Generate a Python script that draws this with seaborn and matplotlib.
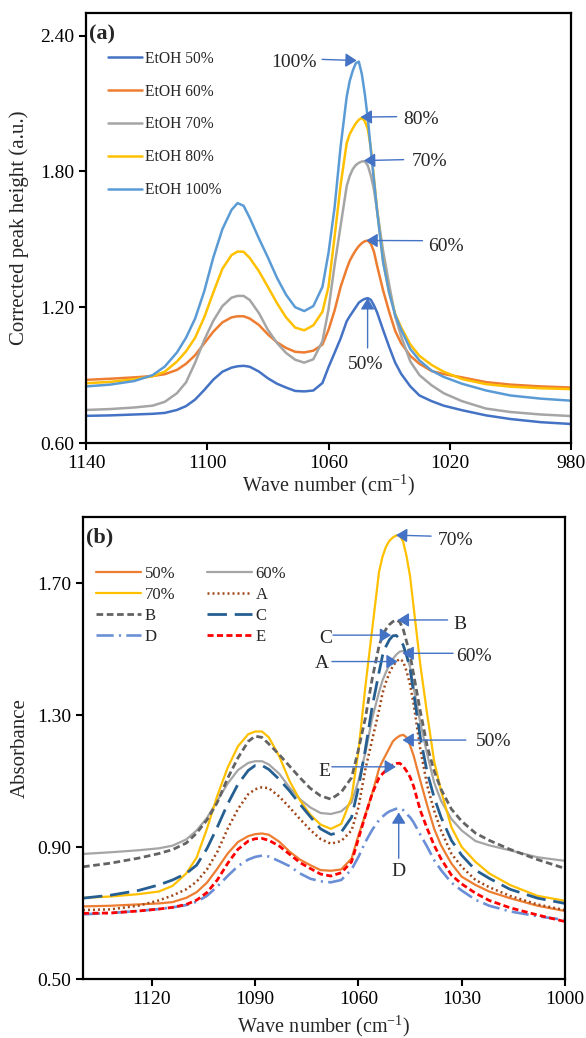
import matplotlib
matplotlib.use("Agg")
import matplotlib.pyplot as plt
import seaborn as sns

# Wavenumber grid (cm-1) shared by all spectra
WAVE = [1140, 1132, 1124, 1118, 1114, 1110, 1107, 1104, 1101, 1098,
        1095, 1092, 1090, 1088, 1086, 1083, 1080, 1077, 1074, 1071,
        1068, 1065, 1062, 1060, 1058, 1056, 1054, 1053, 1052, 1051,
        1050, 1049, 1048, 1047, 1046, 1045, 1044, 1042, 1040, 1038,
        1036, 1033, 1030, 1026, 1022, 1016, 1008, 1000, 990, 980]

# Ethanol standards
ETOH_50 = [0.720, 0.722, 0.726, 0.729, 0.733, 0.746, 0.763, 0.792, 0.834, 0.880,
           0.915, 0.933, 0.939, 0.941, 0.937, 0.916, 0.886, 0.862, 0.845, 0.830,
           0.828, 0.832, 0.865, 0.935, 0.998, 1.062, 1.138, 1.160, 1.180, 1.200,
           1.220, 1.230, 1.237, 1.240, 1.232, 1.208, 1.178, 1.100, 1.025, 0.955,
           0.905, 0.850, 0.810, 0.785, 0.765, 0.745, 0.722, 0.706, 0.692, 0.684]
ETOH_60 = [0.879, 0.884, 0.890, 0.896, 0.904, 0.923, 0.950, 0.988, 1.040, 1.092,
           1.133, 1.155, 1.160, 1.160, 1.150, 1.122, 1.080, 1.045, 1.020, 1.003,
           1.000, 1.008, 1.035, 1.100, 1.185, 1.290, 1.370, 1.405, 1.430, 1.452,
           1.470, 1.483, 1.492, 1.494, 1.480, 1.445, 1.385, 1.275, 1.180, 1.095,
           1.040, 0.985, 0.950, 0.918, 0.905, 0.890, 0.869, 0.858, 0.850, 0.845]
ETOH_70 = [0.746, 0.750, 0.757, 0.765, 0.782, 0.820, 0.868, 0.955, 1.055, 1.140,
           1.205, 1.242, 1.250, 1.250, 1.232, 1.175, 1.100, 1.042, 0.998, 0.968,
           0.955, 0.970, 1.050, 1.190, 1.385, 1.560, 1.735, 1.780, 1.810, 1.828,
           1.838, 1.844, 1.845, 1.825, 1.780, 1.720, 1.630, 1.450, 1.300, 1.160,
           1.070, 0.960, 0.900, 0.855, 0.820, 0.785, 0.752, 0.737, 0.726, 0.719]
ETOH_80 = [0.864, 0.870, 0.882, 0.895, 0.915, 0.960, 1.005, 1.065, 1.155, 1.265,
           1.370, 1.430, 1.446, 1.445, 1.418, 1.360, 1.290, 1.218, 1.155, 1.110,
           1.098, 1.120, 1.180, 1.290, 1.510, 1.740, 1.925, 1.965, 1.990, 2.012,
           2.028, 2.037, 2.022, 1.985, 1.900, 1.770, 1.635, 1.405, 1.265, 1.170,
           1.110, 1.035, 0.985, 0.945, 0.915, 0.883, 0.860, 0.849, 0.842, 0.838]
ETOH_100 = [0.850, 0.858, 0.874, 0.900, 0.938, 1.000, 1.065, 1.150, 1.270, 1.420,
            1.545, 1.630, 1.660, 1.648, 1.595, 1.505, 1.420, 1.330, 1.255, 1.200,
            1.183, 1.205, 1.290, 1.440, 1.640, 1.910, 2.130, 2.200, 2.245, 2.278,
            2.285, 2.230, 2.140, 2.030, 1.890, 1.760, 1.630, 1.400, 1.265, 1.165,
            1.100, 1.015, 0.965, 0.920, 0.892, 0.862, 0.832, 0.810, 0.796, 0.787]

# Samples A-E, recorded from 1140 to 1000 cm-1
WAVE_S = WAVE[:48]
SAMPLE_A = [0.709, 0.711, 0.722, 0.738, 0.753, 0.772, 0.795, 0.832, 0.885, 0.955,
            1.015, 1.060, 1.075, 1.081, 1.078, 1.053, 1.020, 0.985, 0.952, 0.924,
            0.910, 0.918, 0.950, 1.020, 1.135, 1.225, 1.315, 1.366, 1.400, 1.428,
            1.448, 1.462, 1.470, 1.462, 1.432, 1.392, 1.335, 1.195, 1.085, 1.010,
            0.950, 0.880, 0.840, 0.800, 0.778, 0.752, 0.726, 0.709]
SAMPLE_B = [0.840, 0.851, 0.866, 0.880, 0.892, 0.912, 0.942, 0.982, 1.035, 1.108,
            1.170, 1.220, 1.236, 1.232, 1.212, 1.180, 1.145, 1.110, 1.078, 1.055,
            1.045, 1.066, 1.110, 1.195, 1.290, 1.410, 1.510, 1.540, 1.560, 1.574,
            1.583, 1.588, 1.582, 1.560, 1.522, 1.482, 1.425, 1.310, 1.205, 1.130,
            1.075, 1.015, 0.978, 0.942, 0.920, 0.893, 0.862, 0.835]
SAMPLE_C = [0.745, 0.754, 0.768, 0.785, 0.800, 0.820, 0.845, 0.895, 0.960, 1.030,
            1.090, 1.132, 1.147, 1.147, 1.135, 1.105, 1.070, 1.030, 0.992, 0.955,
            0.938, 0.945, 0.990, 1.080, 1.195, 1.325, 1.430, 1.480, 1.508, 1.528,
            1.540, 1.541, 1.530, 1.512, 1.480, 1.440, 1.370, 1.230, 1.125, 1.050,
            0.990, 0.920, 0.875, 0.830, 0.805, 0.772, 0.745, 0.729]
SAMPLE_D = [0.696, 0.700, 0.706, 0.712, 0.717, 0.724, 0.734, 0.752, 0.780, 0.812,
            0.842, 0.862, 0.870, 0.874, 0.871, 0.857, 0.842, 0.820, 0.804, 0.796,
            0.793, 0.800, 0.832, 0.870, 0.915, 0.952, 0.982, 0.992, 1.001, 1.008,
            1.012, 1.016, 1.017, 1.012, 1.000, 0.990, 0.975, 0.937, 0.900, 0.860,
            0.830, 0.792, 0.768, 0.740, 0.722, 0.705, 0.690, 0.679]
SAMPLE_E = [0.699, 0.700, 0.706, 0.712, 0.717, 0.726, 0.739, 0.762, 0.800, 0.850,
            0.893, 0.918, 0.925, 0.926, 0.920, 0.903, 0.878, 0.853, 0.835, 0.818,
            0.812, 0.822, 0.855, 0.925, 0.995, 1.062, 1.110, 1.122, 1.132, 1.143,
            1.149, 1.153, 1.154, 1.145, 1.130, 1.112, 1.085, 1.010, 0.955, 0.905,
            0.864, 0.815, 0.788, 0.760, 0.738, 0.716, 0.694, 0.674]

TOP_XTICKS = [1140, 1100, 1060, 1020, 980]
TOP_YTICKS = [0.60, 1.20, 1.80, 2.40]
BOT_XTICKS = [1120, 1090, 1060, 1030, 1000]
BOT_YTICKS = [0.50, 0.90, 1.30, 1.70]

sns.set_style("ticks")
plt.rcParams["font.family"] = ["Liberation Serif", "DejaVu Serif"]
plt.rcParams["mathtext.fontset"] = "custom"
plt.rcParams["mathtext.rm"] = "Liberation Serif"
plt.rcParams["mathtext.it"] = "Liberation Serif:italic"
plt.rcParams["mathtext.default"] = "regular"

ARROW = "#4472C4"
fig = plt.figure(figsize=(5.86, 10.38), dpi=100)
ax1 = fig.add_axes([86 / 586, 1 - 443 / 1038, 485 / 586, 430 / 1038])
ax2 = fig.add_axes([83 / 586, 1 - 979 / 1038, 482 / 586, 462 / 1038])


def style_axes(ax, xlim, ylim, xticks, yticks, ylabel):
    ax.set_xlim(*xlim)
    ax.set_ylim(*ylim)
    ax.set_xticks(xticks)
    ax.set_yticks(yticks)
    ax.set_yticklabels([f"{v:.2f}" for v in yticks])
    ax.set_xticklabels([str(v) for v in xticks])
    for s in ax.spines.values():
        s.set_linewidth(1.6)
        s.set_color("black")
    ax.tick_params(direction="out", length=5, width=1.5, labelsize=14, colors="black")
    ax.set_xlabel("Wave number (cm$^{-1}$)", fontsize=14.5)
    ax.set_ylabel(ylabel, fontsize=15)


def arrow(ax, head, tail):
    ax.annotate("", xy=head, xytext=tail,
                arrowprops=dict(arrowstyle="-|>,head_length=0.45,head_width=0.28",
                                color=ARROW, lw=1.0, mutation_scale=15,
                                shrinkA=0, shrinkB=0))


# ---- (a) ethanol standards ----
top_series = [("EtOH 50%", ETOH_50, "#4472C4"),
              ("EtOH 60%", ETOH_60, "#ED7D31"),
              ("EtOH 70%", ETOH_70, "#A5A5A5"),
              ("EtOH 80%", ETOH_80, "#FFC000"),
              ("EtOH 100%", ETOH_100, "#5B9BD5")]
for name, vals, col in top_series:
    sns.lineplot(x=WAVE, y=vals, ax=ax1, color=col, linewidth=1.8, label=name,
                 estimator=None, sort=False)

style_axes(ax1, (1140, 980), (0.6, 2.5), TOP_XTICKS, TOP_YTICKS,
           "Corrected peak height (a.u.)")
ax1.yaxis.set_label_coords(-0.118, 0.5)
ax1.xaxis.set_label_coords(0.5, -0.07)
ax1.legend(loc="upper left", bbox_to_anchor=(0.045, 0.912), frameon=False, fontsize=11.2,
           handlelength=2.2, handletextpad=0.2, labelspacing=1.08,
           borderpad=0, borderaxespad=0)
ax1.text(0.006, 0.949, "(a)", transform=ax1.transAxes, fontsize=16, fontweight="bold",
         va="center", ha="left")

arrow(ax1, (1050.7, 2.29), (1062.1, 2.295))
ax1.text(1064.0, 2.28, "100%", fontsize=14, ha="right", va="center")
arrow(ax1, (1049.4, 2.04), (1037.5, 2.042))
ax1.text(1035.2, 2.03, "80%", fontsize=14, ha="left", va="center")
arrow(ax1, (1048.3, 1.848), (1035.2, 1.852))
ax1.text(1032.4, 1.843, "70%", fontsize=14, ha="left", va="center")
arrow(ax1, (1047.5, 1.495), (1029.0, 1.494))
ax1.text(1027.2, 1.47, "60%", fontsize=14, ha="left", va="center")
arrow(ax1, (1047.1, 1.24), (1047.1, 1.02))
ax1.text(1047.6, 0.945, "50%", fontsize=14, ha="center", va="center")

# ---- (b) standards vs samples ----
bot_series = [("50%", WAVE, ETOH_50, "#ED7D31", "-", 1.6),
              ("60%", WAVE, ETOH_60, "#A5A5A5", "-", 1.6),
              ("70%", WAVE, ETOH_70, "#FFC000", "-", 1.6),
              ("A", WAVE_S, SAMPLE_A, "#A0481A", (0, (0.8, 1.2)), 1.8),
              ("B", WAVE_S, SAMPLE_B, "#636363", (0, (2.4, 1.3)), 2.0),
              ("C", WAVE_S, SAMPLE_C, "#255E91", (0, (7.0, 2.8)), 2.0),
              ("D", WAVE_S, SAMPLE_D, "#6B8FD6", (0, (6.5, 2.0, 0.8, 2.0)), 1.9),
              ("E", WAVE_S, SAMPLE_E, "#FF0000", (0, (2.2, 1.2)), 2.0)]
for name, xs, vals, col, ls, lw in bot_series:
    sns.lineplot(x=xs, y=vals, ax=ax2, color=col, linewidth=lw, linestyle=ls,
                 label=name, estimator=None, sort=False)

style_axes(ax2, (1140, 1000), (0.5, 1.9), BOT_XTICKS, BOT_YTICKS, "Absorbance")
ax2.yaxis.set_label_coords(-0.11, 0.5)
ax2.xaxis.set_label_coords(0.5, -0.075)
handles, labels = ax2.get_legend_handles_labels()
order = [0, 2, 4, 6, 1, 3, 5, 7]
ax2.legend([handles[i] for i in order], [labels[i] for i in order],
           loc="upper left", bbox_to_anchor=(0.028, 0.894), ncol=2, frameon=False,
           fontsize=12, handlelength=2.7, handletextpad=0.2, labelspacing=0.3,
           columnspacing=1.9, borderpad=0, borderaxespad=0)
ax2.text(0.006, 0.955, "(b)", transform=ax2.transAxes, fontsize=16, fontweight="bold",
         va="center", ha="left")

arrow(ax2, (1049.1, 1.845), (1038.9, 1.842))
ax2.text(1037.1, 1.83, "70%", fontsize=14, ha="left", va="center")
arrow(ax2, (1048.6, 1.588), (1034.1, 1.588))
ax2.text(1030.4, 1.573, "B", fontsize=14, ha="center", va="center")
arrow(ax2, (1050.5, 1.542), (1067.4, 1.542))
ax2.text(1069.6, 1.532, "C", fontsize=14, ha="center", va="center")
arrow(ax2, (1048.6, 1.462), (1067.7, 1.462))
ax2.text(1070.7, 1.455, "A", fontsize=14, ha="center", va="center")
arrow(ax2, (1047.2, 1.487), (1032.5, 1.487))
ax2.text(1031.6, 1.477, "60%", fontsize=14, ha="left", va="center")
arrow(ax2, (1047.2, 1.224), (1028.8, 1.224))
ax2.text(1025.9, 1.219, "50%", fontsize=14, ha="left", va="center")
arrow(ax2, (1049.1, 1.143), (1067.7, 1.143))
ax2.text(1069.9, 1.128, "E", fontsize=14, ha="center", va="center")
arrow(ax2, (1048.3, 1.005), (1048.3, 0.866))
ax2.text(1048.3, 0.825, "D", fontsize=14, ha="center", va="center")

fig.savefig("out.png", dpi=100, facecolor="white")
